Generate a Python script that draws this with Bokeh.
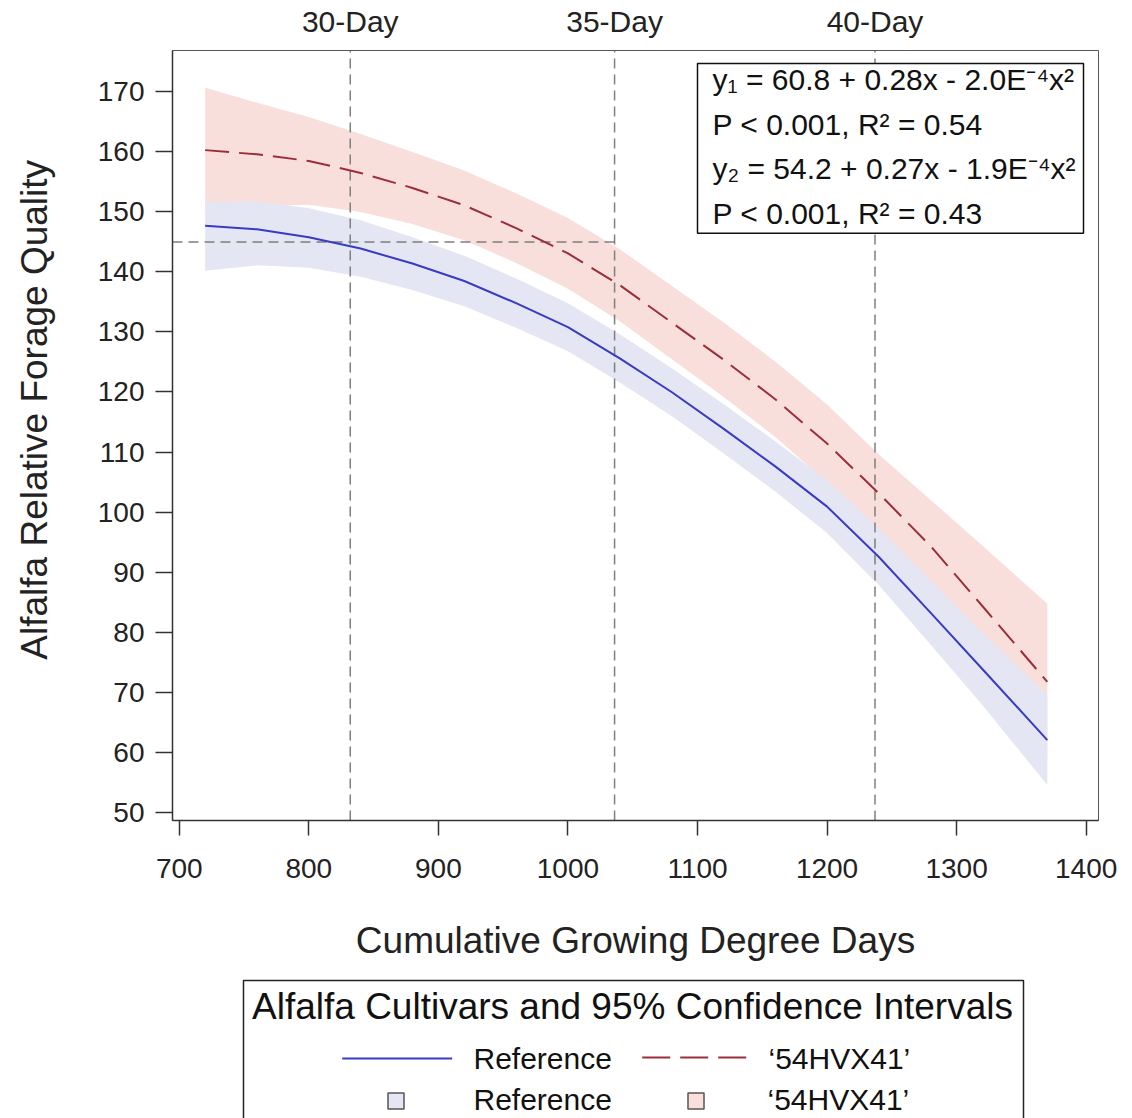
from bokeh.plotting import figure
from bokeh.layouts import column
from bokeh.models import Range1d, FixedTicker, LinearAxis, Label, BoxAnnotation
from bokeh.embed import file_html
from bokeh.resources import INLINE
from bokeh.core.properties import value

# ---------------- data ----------------
gdd = [720, 760, 800, 840, 880, 920, 960, 1000, 1040, 1080, 1120, 1160, 1200, 1240, 1280, 1320, 1370]

ref_fit   = [147.7, 147.1, 145.8, 143.9, 141.4, 138.5, 134.8, 130.8, 125.6, 120.0, 113.9, 107.6, 100.9, 92.5, 83.2, 73.8, 62.0]
ref_upper = [151.6, 151.8, 150.6, 148.6, 145.8, 142.7, 138.9, 134.8, 129.6, 124.0, 118.0, 111.8, 105.3, 97.2, 88.5, 79.8, 69.5]
ref_lower = [140.2, 141.1, 140.7, 139.2, 137.0, 134.3, 130.7, 126.8, 121.6, 116.0, 109.8, 103.4, 96.5, 87.8, 77.9, 67.8, 54.5]

hvx_fit   = [160.3, 159.6, 158.5, 156.5, 154.0, 151.1, 147.3, 143.1, 137.8, 131.6, 125.4, 118.8, 111.4, 103.1, 94.3, 84.3, 71.7]
hvx_upper = [170.7, 168.2, 165.8, 163.0, 160.0, 156.9, 153.1, 149.0, 143.8, 137.7, 131.6, 125.1, 117.9, 109.6, 102.0, 94.4, 84.7]
hvx_lower = [149.9, 151.0, 151.2, 150.0, 148.0, 145.3, 141.5, 137.2, 131.8, 125.5, 119.2, 112.5, 104.9, 96.2, 86.2, 73.4, 58.9]

x_ticks = [700, 800, 900, 1000, 1100, 1200, 1300, 1400]
y_ticks = [50, 60, 70, 80, 90, 100, 110, 120, 130, 140, 150, 160, 170]

day_labels = ["30-Day", "35-Day", "40-Day"]
day_gdd = [832, 1036, 1237]
rfq_threshold = 145

equation_lines = [
    "y\u2081 = 60.8 + 0.28x - 2.0E\u207b\u2074x\u00b2",
    "P < 0.001, R\u00b2 = 0.54",
    "y\u2082 = 54.2 + 0.27x - 1.9E\u207b\u2074x\u00b2",
    "P < 0.001, R\u00b2 = 0.43",
]

x_title = "Cumulative Growing Degree Days"
y_title = "Alfalfa Relative Forage Quality"
legend_title = "Alfalfa Cultivars and 95% Confidence Intervals"
series_names = ["Reference", "\u201854HVX41\u2019"]

# ---------------- style ----------------
FONT = "Liberation Sans"
REF_LINE = "#3a3ac4"
REF_BAND = "#e4e7f3"
HVX_LINE = "#9c2e3a"
HVX_BAND = "#f9dfdb"
GUIDE = "#7f7f7f"
INK = "#111111"

W = 1132
H_MAIN = 970
H_LEG = 1118 - H_MAIN
FL, FR, FT, FB = 172, 1098, 50, 820      # frame edges on the canvas
SHIFT = 12                               # alphabetic baseline correction

x_lo, x_hi = 694.8, 1409.5
y_lo, y_hi = 48.6, 176.9

p = figure(width=W, height=H_MAIN, x_range=Range1d(x_lo, x_hi), y_range=Range1d(y_lo, y_hi),
           output_backend="svg", toolbar_location=None,
           min_border_left=FL, min_border_right=W - FR, min_border_top=FT, min_border_bottom=H_MAIN - FB,
           background_fill_color="white", border_fill_color="white",
           outline_line_color="#555555", outline_line_width=1)
p.grid.visible = False

p.xaxis.ticker = FixedTicker(ticks=x_ticks)
p.yaxis.ticker = FixedTicker(ticks=y_ticks)
for ax in (p.xaxis, p.yaxis):
    ax.axis_line_color = "#333333"
    ax.axis_line_width = 1.5
    ax.major_tick_line_color = "#333333"
    ax.major_tick_line_width = 1.5
    ax.major_tick_in = 0
    ax.minor_tick_line_color = None
    ax.major_label_text_font = FONT
    ax.major_label_text_font_size = "28px"
    ax.major_label_text_color = "#222222"
    ax.axis_label_text_font = FONT
    ax.axis_label_text_font_style = "normal"
    ax.axis_label_text_font_size = "37px"
    ax.axis_label_text_color = "#222222"
p.xaxis.major_tick_out = 15
p.yaxis.major_tick_out = 17
p.xaxis.major_label_standoff = 23
p.yaxis.major_label_standoff = 11
p.xaxis.axis_label = x_title
# leading no-break spaces move the centred vertical title up, as in the reference
p.yaxis.axis_label = "\u00a0" * 5 + y_title
p.xaxis.axis_label_standoff = 39
p.yaxis.axis_label_standoff = 40

top = LinearAxis(ticker=FixedTicker(ticks=day_gdd),
                 major_label_overrides={d: lab for d, lab in zip(day_gdd, day_labels)},
                 axis_line_color=None, major_tick_line_color=None, minor_tick_line_color=None,
                 major_tick_out=0, major_tick_in=0, major_label_standoff=13,
                 major_label_text_font=FONT, major_label_text_font_size="30px",
                 major_label_text_color="#222222")
p.add_layout(top, "above")

# confidence bands
p.varea(x=gdd, y1=hvx_lower, y2=hvx_upper, fill_color=HVX_BAND, fill_alpha=1)
p.varea(x=gdd, y1=ref_lower, y2=ref_upper, fill_color=REF_BAND, fill_alpha=1)

# guide lines
p.segment(x0=day_gdd, y0=[y_lo] * len(day_gdd), x1=day_gdd, y1=[y_hi] * len(day_gdd),
          line_color=GUIDE, line_width=1.5, line_dash="10 6")
p.segment(x0=[x_lo], y0=[rfq_threshold], x1=[day_gdd[1]], y1=[rfq_threshold],
          line_color=GUIDE, line_width=1.5, line_dash="10 6")

# fitted curves
p.line(gdd, ref_fit, line_color=REF_LINE, line_width=2)
p.line(gdd, hvx_fit, line_color=HVX_LINE, line_width=2, line_dash="24 10")

# equation box (pixels from the frame's left / bottom edge)
p.add_layout(BoxAnnotation(left=697 - FL, right=1083 - FL, top=FB - 63, bottom=FB - 232.7,
                           left_units="screen", right_units="screen",
                           top_units="screen", bottom_units="screen",
                           fill_color="white", fill_alpha=1,
                           line_color=INK, line_alpha=1, line_width=1.5))
for i, txt in enumerate(equation_lines):
    base = 90.7 + 44.8 * i - SHIFT
    p.add_layout(Label(x=712 - FL, y=FB - base, x_units="screen", y_units="screen",
                       text=txt, text_font=FONT, text_font_size="30px", text_color=INK,
                       text_align="left", text_baseline="alphabetic"))

# ---------------- legend panel (its data units are canvas pixels) ----------------
leg = figure(width=W, height=H_LEG, x_range=Range1d(FL, FR), y_range=Range1d(H_LEG, 0),
             output_backend="svg", toolbar_location=None,
             min_border_left=FL, min_border_right=W - FR, min_border_top=0, min_border_bottom=0,
             x_axis_type=None, y_axis_type=None,
             outline_line_color=None, background_fill_color="white", border_fill_color="white")

Y0 = H_MAIN  # canvas y of the legend panel's top
leg.quad(left=[243], right=[1023], top=[980 - Y0], bottom=[400], fill_color=None,
         line_color="#222222", line_width=1.5)
leg.text(x=[632], y=[1017.5 - SHIFT - Y0], text=[legend_title], text_align="center",
         text_baseline="alphabetic", text_font=value(FONT), text_font_size="37px", text_color=INK)

leg.line([341.7, 451.7], [1058 - Y0, 1058 - Y0], line_color=REF_LINE, line_width=2)
leg.line([641.7, 746.7], [1057 - Y0, 1057 - Y0], line_color=HVX_LINE, line_width=2, line_dash="28 10")
leg.scatter([395.5], [1100.5 - Y0], marker="square", size=16, fill_color=REF_BAND,
            line_color="#555555", line_width=1.5)
leg.scatter([695.5], [1100.5 - Y0], marker="square", size=16, fill_color=HVX_BAND,
            line_color="#555555", line_width=1.5)

leg.text(x=[473, 768, 473, 767],
         y=[1070 - SHIFT - Y0, 1070 - SHIFT - Y0, 1111 - SHIFT - Y0, 1111 - SHIFT - Y0],
         text=[series_names[0], series_names[1], series_names[0], series_names[1]],
         text_align="left", text_baseline="alphabetic",
         text_font=value(FONT), text_font_size="30px", text_color=INK)

layout = column(p, leg, spacing=0)
open("out.html", "w").write(file_html(layout, INLINE))
